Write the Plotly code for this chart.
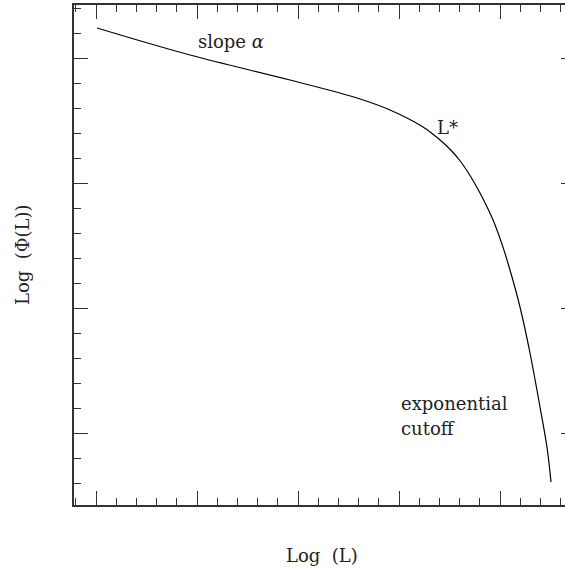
import plotly.graph_objects as go

# Curve: Log(L) vs Log(Phi(L))
log_L = [0.01, 0.931, 1.921, 2.584, 2.911, 3.238, 3.406, 3.505, 3.604, 3.703,
         3.802, 3.931, 4.017, 4.099, 4.198, 4.297, 4.396, 4.465, 4.505]
log_phi = [3.24, 3.024, 2.824, 2.68, 2.584, 2.448, 2.344, 2.27, 2.178, 2.060,
           1.92, 1.704, 1.517, 1.304, 1.008, 0.64, 0.208, -0.112, -0.392]

x_major = [0, 1, 2, 3, 4]
y_major = [0, 1, 2, 3]

FONT = "DejaVu Serif"
AX = "#333333"
FS = 18

fig = go.Figure()
fig.add_trace(go.Scatter(x=log_L, y=log_phi, mode="lines",
                         line=dict(color="black", width=1.2, shape="spline", smoothing=1.0),
                         hoverinfo="skip", showlegend=False))
fig.add_trace(go.Scatter(x=[None], y=[None], yaxis="y2", showlegend=False, hoverinfo="skip"))

xr = [-22 / 101, 469 / 101]
yr = [3 - 447 / 125, 3 + 53 / 125]

fig.update_layout(
    width=565, height=572,
    margin=dict(l=74, r=0, t=5, b=67),
    plot_bgcolor="white", paper_bgcolor="white",
    font=dict(family=FONT, size=FS, color="#222"),
    xaxis=dict(range=xr, showgrid=False, zeroline=False, showline=True,
               linecolor=AX, linewidth=1.5, mirror="ticks",
               tickmode="array", tickvals=x_major, showticklabels=False,
               ticks="inside", ticklen=14, tickwidth=1, tickcolor=AX,
               minor=dict(dtick=0.2, tick0=0, ticks="inside", ticklen=7,
                          tickwidth=1, tickcolor=AX, showgrid=False)),
    yaxis=dict(range=yr, showgrid=False, zeroline=False, showline=True,
               linecolor=AX, linewidth=1.5, mirror=False,
               tickmode="array", tickvals=y_major, showticklabels=False,
               ticks="inside", ticklen=14, tickwidth=1, tickcolor=AX,
               minor=dict(dtick=0.2, tick0=0, ticks="inside", ticklen=7,
                          tickwidth=1, tickcolor=AX, showgrid=False)),
    yaxis2=dict(range=yr, overlaying="y", side="right", showgrid=False,
                zeroline=False, showline=False, tickmode="array",
                tickvals=y_major, showticklabels=False, ticks="inside",
                ticklen=4, tickwidth=1, tickcolor=AX),
)

ann = dict(showarrow=False, xref="paper", yref="paper",
           font=dict(family=FONT, size=FS, color="#222"))
fig.add_annotation(text="slope <i>α</i>", x=(231 - 74) / 491, y=(505 - 42) / 500,
                   xanchor="center", yanchor="middle", **ann)
fig.add_annotation(text="L*", x=(447 - 74) / 491, y=(505 - 127) / 500,
                   xanchor="center", yanchor="middle", **ann)
fig.add_annotation(text="exponential", x=(399 - 74) / 491, y=(505 - 403) / 500,
                   xanchor="left", yanchor="middle", **ann)
fig.add_annotation(text="cutoff", x=(399 - 74) / 491, y=(505 - 428) / 500,
                   xanchor="left", yanchor="middle", **ann)
fig.add_annotation(text="Log  (Φ(L))", x=(22 - 74) / 491, y=(505 - 255) / 500,
                   xanchor="center", yanchor="middle", textangle=-90, **ann)
fig.add_annotation(text="Log  (L)", x=(322 - 74) / 491, y=(505 - 555) / 500,
                   xanchor="center", yanchor="middle", **ann)

fig.write_html("out.html", config={"displayModeBar": False},
               post_script="document.body.style.margin='0';document.body.style.overflow='hidden';")
